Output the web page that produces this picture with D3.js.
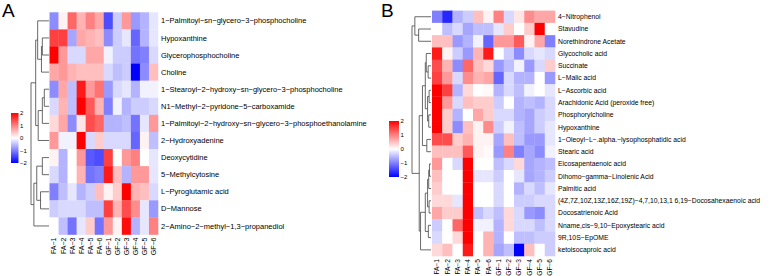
<!DOCTYPE html>
<html><head><meta charset="utf-8">
<script src="https://cdn.jsdelivr.net/npm/d3@7"></script>
<style>body{margin:0;background:#fff}svg{display:block}text{font-family:"Liberation Sans",Arial,Helvetica,sans-serif;fill:#000}</style>
</head><body>
<svg id="c" width="778" height="276"></svg>
<script>
const samples = ["FA−1","FA−2","FA−3","FA−4","FA−5","FA−6","GF−1","GF−2","GF−3","GF−4","GF−5","GF−6"];
const legendTicks = [2,1,0,-1,-2];

const rowsA = ["1−Palmitoyl−sn−glycero−3−phosphocholine","Hypoxanthine","Glycerophosphocholine","Choline",
"1−Stearoyl−2−hydroxy−sn−glycero−3−phosphocholine","N1−Methyl−2−pyridone−5−carboxamide",
"1−Palmitoyl−2−hydroxy−sn−glycero−3−phosphoethanolamine","2−Hydroxyadenine","Deoxycytidine",
"5−Methylcytosine","L−Pyroglutamic acid","D−Mannose","2−Amino−2−methyl−1,3−propanediol"];
const valuesA = [
[-0.9,0.1,1.2,0.6,1.0,0.7,-1.4,-0.4,0.8,-0.8,-0.6,-0.2],
[1.5,1.5,-0.7,0.7,0.6,0.5,-0.9,-0.4,-0.2,-1.2,-0.6,-0.2],
[2.0,0.8,-0.3,-0.3,0.7,0.7,-0.1,-0.4,-0.4,-1.1,-1.0,-0.3],
[0.7,0.8,0.6,0.5,0.5,0.5,-0.3,-0.5,-0.4,-2.0,-0.9,0.5],
[-0.9,0.7,-0.5,1.8,0.8,1.1,-0.8,-0.3,-0.2,-0.6,-0.1,-0.1],
[-0.3,0.6,-0.5,2.0,1.3,0.6,-1.0,-0.1,-0.6,-0.4,-0.4,-0.3],
[0.3,0.7,-0.9,0.2,1.4,1.2,-0.6,-0.6,-0.5,-1.1,-0.2,0.8],
[0.8,-0.1,-0.1,2.0,-0.3,0.4,-0.3,-0.3,-0.3,-1.2,0.1,-0.5],
[0.1,-0.6,0.0,0.8,-1.3,-1.4,1.5,0.0,0.8,1.0,0.0,-0.2],
[-0.3,-0.6,0.0,0.6,-1.1,-1.0,1.8,0.5,-0.6,0.8,0.8,-0.2],
[-1.0,-0.5,-0.2,-0.6,-0.4,0.5,0.1,0.4,2.0,0.6,0.5,-0.3],
[-0.4,-0.3,-0.3,-0.3,-0.5,-0.5,1.5,0.6,1.4,0.9,-0.2,-0.8],
[0.0,-0.5,-1.1,-0.2,0.4,-1.1,0.8,0.1,1.9,-0.6,-0.2,1.0]];
// hclust-style merges: negative = leaf (1-based), positive = earlier merge; third = height
const mergesA = [[-2,-3,3.7],[1,-4,4.2],[-1,2,6.3],[-5,-6,2.6],[4,-7,3.7],[5,-8,6.0],[3,6,7.4],
[-9,-10,3.7],[-11,-12,4.7],[8,9,6.8],[10,-13,8.4],[7,11,10]];

const rowsB = ["4−Nitrophenol","Stavudine","Norethindrone Acetate","Glycocholic acid","Succinate","L−Malic acid",
"L−Ascorbic acid","Arachidonic Acid (peroxide free)","Phosphorylcholine","Hypoxanthine",
"1−Oleoyl−L−.alpha.−lysophosphatidic acid","Stearic acid","Eicosapentaenoic acid","Dihomo−gamma−Linolenic Acid",
"Palmitic acid","(4Z,7Z,10Z,13Z,16Z,19Z)−4,7,10,13,1 6,19−Docosahexaenoic acid","Docosatrienoic Acid",
"Nname,cis−9,10−Epoxystearic acid","9R,10S−EpOME","ketoisocaproic acid"];
const valuesB = [
[-1.0,-1.7,-0.6,-0.4,0.5,0.1,1.0,-0.3,0.2,0.9,0.7,0.7],
[0.0,-0.5,-0.3,-0.7,-0.5,-0.5,-0.2,0.4,0.0,0.4,2.0,0.0],
[0.5,0.5,-0.8,-0.6,-0.1,-1.2,0.8,0.8,1.3,0.1,0.7,-1.0],
[1.8,0.1,-0.4,-0.8,0.6,1.8,0.0,-0.4,-0.9,-0.3,-0.2,-0.3],
[1.4,0.6,-0.9,1.2,0.5,0.3,-0.8,-0.5,-0.1,-0.8,-0.3,0.4],
[1.5,0.8,-0.3,0.9,0.6,0.7,-1.2,-0.3,-0.6,-0.6,0.0,-0.8],
[2.0,1.5,-0.6,0.3,0.0,0.05,-0.6,-0.3,-0.5,-0.1,0.0,-0.2],
[2.0,0.8,-0.3,0.5,0.4,0.4,-0.4,0.0,-0.6,-0.5,-0.6,-0.3],
[2.0,0.4,-0.6,0.0,0.7,0.4,-0.3,-0.3,-0.6,-0.7,-0.4,-0.3],
[2.0,0.4,-0.9,0.5,0.1,0.9,-0.4,-0.1,-0.5,-0.7,-0.4,-0.2],
[1.4,1.4,0.4,0.6,0.1,0.1,-0.7,0.5,-0.5,-0.8,-0.8,-0.2],
[0.5,0.5,0.5,1.3,0.1,0.05,-0.8,1.0,-1.0,-0.7,-0.9,-0.1],
[0.8,0.0,-0.3,2.0,0.0,0.0,-0.5,-0.3,0.3,-0.7,-0.6,-0.5],
[0.5,0.0,0.0,2.0,-0.2,-0.2,-0.4,0.0,-0.2,-0.7,-0.6,-0.4],
[0.4,0.0,0.0,2.0,0.0,0.0,-0.3,0.0,-0.6,-0.3,-0.5,-0.2],
[0.3,0.3,-0.2,2.0,0.0,0.0,-0.3,0.0,-0.4,-0.4,-0.3,-0.3],
[0.7,0.4,0.4,2.0,-0.5,-0.3,-0.5,0.3,-0.3,-0.8,-0.9,-0.3],
[-0.4,0.0,1.2,2.0,-0.1,-0.1,-0.6,0.3,-0.3,-0.3,-0.5,-0.3],
[-0.3,0.0,0.3,2.0,0.0,0.6,-0.6,0.0,-0.5,-0.5,-0.4,-0.4],
[0.3,0.5,0.0,1.8,0.0,0.6,-0.7,-0.5,-2.0,0.5,0.0,-0.4]];
const mergesB = [[-2,-3,6.5],[-1,1,8.5],[-7,-8,1.0],[-9,-10,1.2],[3,4,1.8],[-5,-6,1.5],[-4,6,2.5],[7,5,3.0],
[-11,-12,2.2],[8,9,4.5],[-13,-14,0.8],[11,-15,1.2],[-16,-17,1.0],[12,13,1.8],[-18,-19,1.4],[14,15,3.0],
[16,-20,5.5],[10,17,6.2],[2,18,10]];

const color = d3.scaleLinear().domain([-2,0,2]).range(["#0000ff","#ffffff","#ff0000"]).clamp(true);
const svg = d3.select("#c");
const defs = svg.append("defs");

function panel(cfg){
  const g = svg.append("g");
  const x = d3.scaleBand().domain(d3.range(samples.length)).range([cfg.hx0, cfg.hx1]);
  const y = d3.scaleBand().domain(d3.range(cfg.rows.length)).range([cfg.hy0, cfg.hy1]);
  const cells = [];
  cfg.values.forEach((r,i)=>r.forEach((v,j)=>cells.push({i,j,v})));
  g.selectAll("rect.cell").data(cells).join("rect").attr("class","cell")
    .attr("x",d=>x(d.j)).attr("y",d=>y(d.i))
    .attr("width",x.bandwidth()+0.3).attr("height",y.bandwidth()+0.3)
    .attr("fill",d=>color(d.v));
  // row labels
  g.selectAll("text.row").data(cfg.rows).join("text").attr("class","row")
    .attr("x",cfg.hx1+3).attr("y",(d,i)=>y(i)+y.bandwidth()/2).attr("dy","0.35em")
    .attr("font-size",cfg.rowFont).text(d=>d);
  // col labels
  g.selectAll("text.col").data(samples).join("text").attr("class","col")
    .attr("transform",(d,i)=>`translate(${x(i)+x.bandwidth()/2},${cfg.hy1+3}) rotate(-90)`)
    .attr("dy","0.35em").attr("text-anchor","end").attr("font-size",cfg.colFont).text(d=>d);
  // dendrogram
  const maxH = d3.max(cfg.merges,m=>m[2]);
  const dx = d3.scaleLinear().domain([0,maxH]).range([cfg.dx1, cfg.dx0]);
  const nodes = [];
  const get = k => k<0 ? {y:y(-k-1)+y.bandwidth()/2, h:0} : nodes[k-1];
  const segs = [];
  cfg.merges.forEach(m=>{
    const a = get(m[0]), b = get(m[1]);
    const n = {y:(a.y+b.y)/2, h:m[2]};
    nodes.push(n);
    segs.push([dx(n.h),a.y,dx(n.h),b.y],[dx(n.h),a.y,dx(a.h),a.y],[dx(n.h),b.y,dx(b.h),b.y]);
  });
  g.selectAll("line.dend").data(segs).join("line").attr("class","dend")
    .attr("x1",d=>d[0]).attr("y1",d=>d[1]).attr("x2",d=>d[2]).attr("y2",d=>d[3])
    .attr("stroke","#444").attr("stroke-width",0.8);
  // legend
  const gid = "grad"+cfg.id;
  const grad = defs.append("linearGradient").attr("id",gid).attr("x1",0).attr("y1",1).attr("x2",0).attr("y2",0);
  d3.range(-2,2.01,0.5).forEach(v=>grad.append("stop").attr("offset",(v+2)/4).attr("stop-color",color(v)));
  const ly = d3.scaleLinear().domain([-2,2]).range([cfg.ly1, cfg.ly0]);
  g.append("rect").attr("x",cfg.lx0).attr("y",ly(2)).attr("width",cfg.lw).attr("height",ly(-2)-ly(2))
    .attr("fill",`url(#${gid})`);
  g.selectAll("text.leg").data(legendTicks).join("text").attr("class","leg")
    .attr("x",cfg.lx0+cfg.lw+1.5).attr("y",d=>ly(d)).attr("dy","0.35em").attr("font-size",6)
    .text(d=>d<0?"−"+Math.abs(d):d);
  g.append("text").attr("x",cfg.letterX).attr("y",17).attr("font-size",19).text(cfg.letter);
}

panel({id:"A",letter:"A",letterX:2,rows:rowsA,values:valuesA,merges:mergesA,
  hx0:49.5,hx1:158,hy0:12.3,hy1:234.5,rowFont:7.5,colFont:7,dx0:31,dx1:49,
  lx0:11,lw:7.5,ly0:113,ly1:163});
panel({id:"B",letter:"B",letterX:381,rows:rowsB,values:valuesB,merges:mergesB,
  hx0:432,hx1:555,hy0:10.6,hy1:256,rowFont:6.8,colFont:6.6,dx0:412,dx1:431,
  lx0:389,lw:10,ly0:121,ly1:177});
</script>
</body></html>
